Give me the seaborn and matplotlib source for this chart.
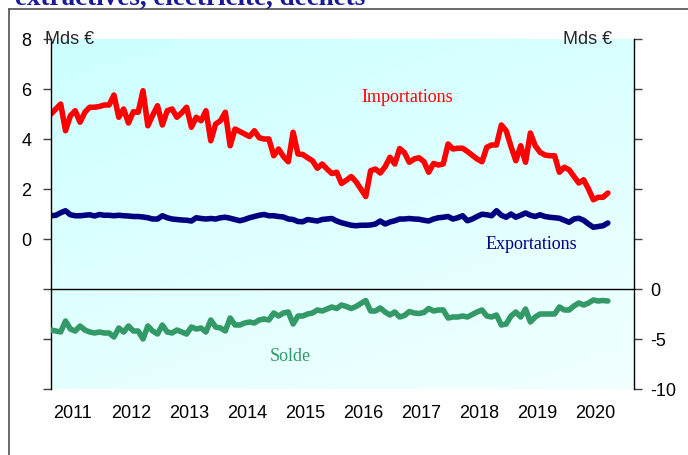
import numpy as np
import matplotlib
matplotlib.use("Agg")
import matplotlib.pyplot as plt
from matplotlib.lines import Line2D
import seaborn as sns

# données mensuelles, janvier 2011 -> juillet 2020 (Mds €)
importations = [
    5.0, 5.2, 5.4, 4.33, 4.93, 5.13, 4.67, 5.07, 5.27, 5.27, 5.3, 5.36,
    5.36, 5.76, 4.87, 5.2, 4.64, 5.09, 5.07, 5.93, 4.53, 4.95, 5.33, 4.56,
    5.13, 5.2, 4.87, 5.05, 5.27, 4.47, 4.87, 4.73, 5.13, 3.93, 4.6, 4.73,
    5.07, 3.73, 4.4, 4.3, 4.2, 4.1, 4.33, 4.05, 4.0, 4.0, 3.33, 3.6,
    3.3, 3.09, 4.27, 3.4, 3.38, 3.25, 3.13, 2.83, 3.0, 2.8, 2.62, 2.67,
    2.22, 2.35, 2.5, 2.29, 2.0, 1.7, 2.73, 2.8, 2.64, 2.89, 3.27, 3.0,
    3.62, 3.45, 3.07, 3.2, 3.25, 3.1, 2.67, 3.02, 2.96, 3.0, 3.8, 3.6,
    3.63, 3.63, 3.5, 3.35, 3.2, 3.09, 3.67, 3.76, 3.76, 4.56, 4.33, 3.7,
    3.13, 3.73, 3.07, 4.24, 3.73, 3.47, 3.36, 3.33, 3.33, 2.67, 2.87, 2.77,
    2.5, 2.24, 2.37, 2.0, 1.57, 1.67, 1.67, 1.84,
]
exportations = [
    0.93, 0.95, 1.05, 1.13, 0.97, 0.93, 0.93, 0.95, 0.97, 0.92, 0.98, 0.95,
    0.95, 0.93, 0.95, 0.93, 0.92, 0.9, 0.9, 0.88, 0.85, 0.8, 0.8, 0.93,
    0.85, 0.8, 0.78, 0.76, 0.75, 0.72, 0.85, 0.82, 0.8, 0.82, 0.8, 0.85,
    0.87, 0.83, 0.78, 0.73, 0.78, 0.85, 0.9, 0.95, 0.98, 0.93, 0.93, 0.9,
    0.88, 0.8, 0.78, 0.7, 0.69, 0.78, 0.75, 0.72, 0.78, 0.8, 0.82, 0.72,
    0.65, 0.6, 0.55, 0.53, 0.55, 0.55, 0.56, 0.6, 0.72, 0.6, 0.68, 0.73,
    0.8, 0.8, 0.82, 0.8, 0.79, 0.75, 0.72, 0.8, 0.85, 0.87, 0.9, 0.8,
    0.85, 0.93, 0.73, 0.8, 0.9, 0.99, 0.97, 0.93, 1.13, 0.95, 0.87, 1.0,
    0.87, 0.95, 1.04, 0.95, 0.9, 0.97, 0.9, 0.87, 0.85, 0.83, 0.75, 0.67,
    0.8, 0.83, 0.75, 0.6, 0.47, 0.5, 0.53, 0.64,
]
solde = [
    -4.1, -4.2, -4.3, -3.2, -4.0, -4.2, -3.7, -4.1, -4.3, -4.4, -4.3, -4.4,
    -4.4, -4.8, -3.9, -4.3, -3.7, -4.2, -4.2, -5.0, -3.7, -4.2, -4.5, -3.6,
    -4.3, -4.4, -4.1, -4.3, -4.5, -3.8, -4.0, -3.9, -4.3, -3.1, -3.8, -3.9,
    -4.2, -2.9, -3.6, -3.6, -3.4, -3.3, -3.4, -3.1, -3.0, -3.1, -2.4, -2.7,
    -2.4, -2.3, -3.5, -2.7, -2.7, -2.5, -2.4, -2.1, -2.2, -2.0, -1.8, -1.95,
    -1.6, -1.75, -1.95, -1.75, -1.45, -1.15, -2.2, -2.2, -1.9, -2.3, -2.6, -2.3,
    -2.8, -2.65, -2.25, -2.4, -2.45, -2.35, -1.95, -2.2, -2.1, -2.1, -2.9, -2.8,
    -2.8, -2.7, -2.8, -2.55, -2.3, -2.1, -2.7, -2.8, -2.6, -3.6, -3.5, -2.7,
    -2.3, -2.8, -2.0, -3.3, -2.8, -2.5, -2.5, -2.5, -2.5, -1.8, -2.1, -2.1,
    -1.7, -1.4, -1.6, -1.4, -1.1, -1.2, -1.15, -1.2,
]
annees = ["2011", "2012", "2013", "2014", "2015", "2016", "2017", "2018", "2019", "2020"]
mois = np.arange(len(importations))

sns.set_theme(style="white")
plt.rcParams["font.family"] = ["Liberation Sans", "DejaVu Sans"]

fig = plt.figure(figsize=(6.88, 4.56), dpi=100)
pos = [51 / 688, 66 / 456, 583 / 688, 350 / 456]

# fond dégradé cyan
bg = fig.add_axes(pos, zorder=0)
u = np.linspace(0, 1, 200)
v = np.linspace(1, 0, 200)
U, V = np.meshgrid(u, v)
r = (204 + 38 * (0.35 * U + 0.65 * (1 - V))) / 255
grad = np.dstack([r, np.ones_like(r), np.ones_like(r)])
bg.imshow(grad, aspect="auto", extent=[0, 1, 0, 1])
bg.axis("off")

ax = fig.add_axes(pos, zorder=1)
ax.patch.set_visible(False)
ax2 = ax.twinx()

sns.lineplot(x=mois, y=importations, ax=ax, color="#ff0000", lw=4)
sns.lineplot(x=mois, y=exportations, ax=ax, color="#000080", lw=4)
sns.lineplot(x=mois, y=solde, ax=ax2, color="#339966", lw=4)
ax2.axhline(0, color="black", lw=1)

ax.set_xlim(0, 120.4)
ax.set_ylim(-6, 8)
ax2.set_ylim(-10, 25)

ax.set_xticks(4.5 + 12 * np.arange(len(annees)))
ax.set_xticklabels(annees)
ax.set_yticks(np.arange(-6, 9, 2))
ax.set_yticklabels(["", "", "", "0", "2", "4", "6", "8"])
ax2.set_yticks(np.arange(-10, 26, 5))
ax2.set_yticklabels(["-10", "-5", "0", "", "", "", "", ""])
ax.set_xlabel("")
ax.set_ylabel("")
ax2.set_ylabel("")

ax.tick_params(axis="x", length=0, pad=11, labelsize=13, colors="black")
ax.tick_params(axis="y", left=True, length=6, width=1, color="#404040",
               pad=8, labelsize=13, labelcolor="black")
ax2.tick_params(axis="y", right=True, length=6, width=1, color="#404040",
                pad=6, labelsize=13, labelcolor="black")
ax2.tick_params(axis="x", length=0)

for a in (ax, ax2):
    for s in ("top", "bottom"):
        a.spines[s].set_visible(False)
ax.spines["right"].set_visible(False)
ax2.spines["left"].set_visible(False)
ax.spines["left"].set_color("black")
ax2.spines["right"].set_color("black")
ax.spines["left"].set_linewidth(1)
ax2.spines["right"].set_linewidth(1)

ax.text(64, 5.52, "Importations", color="#ff0000", fontsize=13,
        family="Liberation Serif", va="baseline")
ax.text(89.7, -0.36, "Exportations", color="#000080", fontsize=13,
        family="Liberation Serif", va="baseline")
ax2.text(45.2, -7.1, "Solde", color="#339966", fontsize=13,
         family="Liberation Serif", va="baseline")

fig.text(45 / 688, 1 - 44 / 456, "Mds €", fontsize=13, va="baseline", ha="left")
fig.text(612 / 688, 1 - 44 / 456, "Mds €", fontsize=13, va="baseline", ha="right")

# titre coupé en haut + cadre
fig.text(15 / 688, 1 - 4.5 / 456, "extractives, électricité, déchets",
         fontsize=19.5, fontweight="bold", family="Liberation Serif",
         color="#1a1a99", va="baseline")
fig.add_artist(Line2D([9 / 688, 9 / 688], [0, 1 - 10 / 456],
                      transform=fig.transFigure, color="#505050", lw=1.2))
fig.add_artist(Line2D([9 / 688, 1], [1 - 10 / 456, 1 - 10 / 456],
                      transform=fig.transFigure, color="#505050", lw=1.2))

fig.savefig("out.png", dpi=100)
